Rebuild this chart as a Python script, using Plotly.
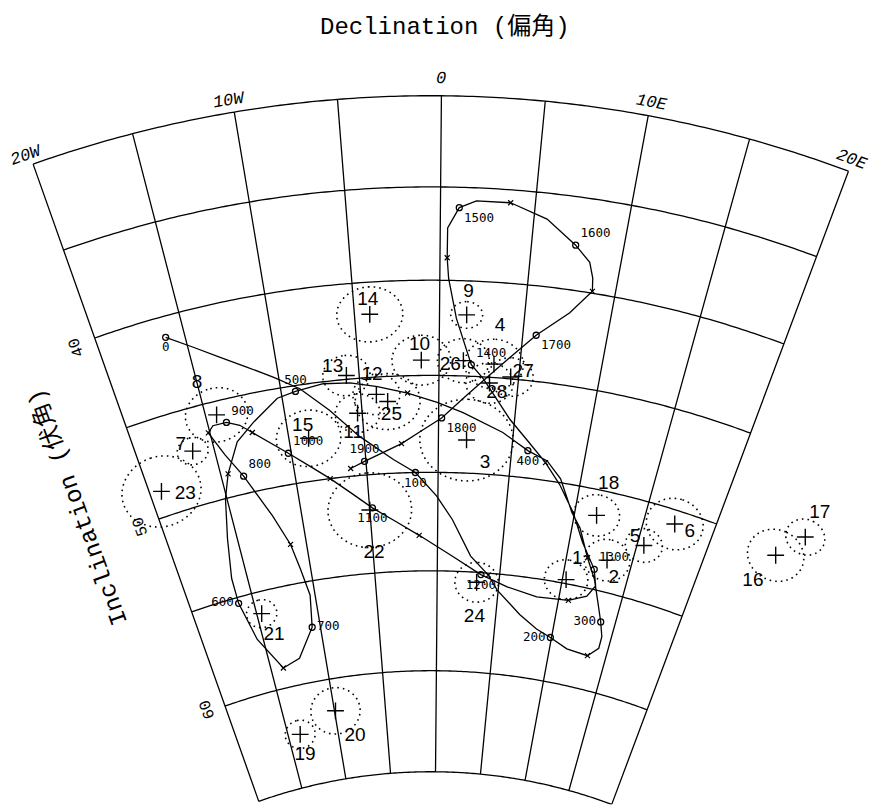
import numpy as np
import plotly.graph_objects as go

W, H = 871, 805

# Graticule of the equal-area net (declination / inclination, degrees)
DEC_LINES = [-20, -15, -10, -5, 0, 5, 10, 15, 20]
INC_LINES = [30, 35, 40, 45, 50, 55, 60, 65]
DEC_TICKS = ["20W", "10W", "0", "10E", "20E"]
INC_TICKS = ["40", "50", "60"]

# Secular-variation path, vertices in order of age
path_dec = [-16.1, -13.3, -10.3, -8.8, -7.1, -5.3, -3.1, -1.6, -0.1, 1.1, 2.6, 4.1, 4.9, 7.0, 8.6,
            9.9, 11.5, 13.4, 14.2, 14.2, 13.8, 13.2, 12.5, 11.6, 10.6, 9.8, 8.6, 7.5, 6.1, 4.3, 1.6,
            -0.1, -2.0, -3.9, -5.6, -7.3, -9.1, -10.3, -12.1, -13.4, -14.5, -15.1, -15.7, -16.2,
            -16.2, -15.5, -13.9, -12.3, -10.7, -10.4, -10.8, -11.2, -12.1, -13.5, -14.4, -15.1,
            -14.7, -13.8, -13.0, -12.3, -10.2, -7.6, -4.8, -1.4, 3.5, 5.7, 8.2, 10.8, 12.2, 12.7,
            12.3, 11.0, 9.9, 8.6, 7.4, 4.7, 2.8, 2.0, 1.0, 0.5, 0.4, 0.4, 1.0, 1.9, 3.7, 5.7, 7.4,
            8.3, 8.6, 8.7, 7.6, 5.8, 0.2, -2.5, -5.1, -6.1]
path_inc = [41.1, 42.8, 44.4, 45.2, 46.5, 48.0, 49.3, 50.0, 51.2, 52.4, 54.2, 55.1, 55.8, 56.9, 57.5,
            57.8, 58.2, 58.3, 57.8, 57.2, 56.5, 55.6, 54.5, 53.5, 52.1, 51.4, 49.8, 49.0, 48.6, 47.8,
            46.9, 46.4, 45.9, 45.5, 45.2, 45.1, 45.3, 45.5, 46.5, 47.3, 48.8, 50.0, 52.0, 54.0, 55.3,
            57.3, 59.0, 58.7, 57.3, 55.7, 54.3, 53.0, 51.4, 49.1, 47.8, 46.5, 46.2, 46.2, 46.5, 47.0,
            48.4, 50.0, 51.7, 53.2, 55.1, 55.6, 55.9, 55.8, 55.4, 54.8, 54.0, 52.8, 51.4, 50.1, 49.1,
            47.1, 45.1, 44.4, 42.0, 39.9, 38.8, 37.2, 36.1, 35.7, 35.7, 36.4, 37.6, 38.4, 39.2, 39.9,
            41.2, 42.6, 47.2, 48.5, 49.3, 49.6]

# Dated points (years) on the path
ages = [0, 100, 200, 300, 400, 500, 600, 700, 800, 900,
        1000, 1100, 1200, 1300, 1400, 1500, 1600, 1700, 1800, 1900]
age_dec = [-16.1, -1.6, 9.9, 13.8, 6.1, -9.1, -16.2, -10.7, -13.5, -13.8,
           -10.2, -4.8, 3.5, 12.3, 2.0, 1.0, 7.4, 5.8, 0.2, -5.1]
age_inc = [41.1, 50.0, 57.8, 56.5, 48.6, 45.3, 55.3, 57.3, 49.1, 46.2,
           48.4, 51.7, 55.1, 54.0, 44.4, 36.1, 37.6, 42.6, 47.2, 49.3]

# Intermediate half-century marks
mid_ages = [150, 250, 350, 450, 550, 650, 750, 850, 950, 1050, 1150, 1250, 1350, 1450, 1550, 1650,
            1850, 1950]
mid_dec = [4.1, 13.4, 11.6, -2.0, -14.5, -13.9, -11.2, -15.1, -12.3, -7.6, -1.4, 10.8, 7.4, 0.4,
           3.7, 8.7, -2.5, -6.1]
mid_inc = [55.1, 58.3, 53.5, 45.9, 48.8, 59.0, 53.0, 46.5, 47.0, 50.0, 53.2, 55.8, 49.1, 38.8,
           35.7, 39.9, 48.5, 49.6]

# Site mean directions and their alpha-95 confidence radii
site_id = list(range(1, 29))
site_dec = [10.3, 13.1, 1.9, 3.4, 15.5, 17.2, -16.4, -14.3, 1.6, -1.1, -5.3, -4.0, -5.8, -4.1,
            -8.7, 24.7, 26.0, 11.6, -13.8, -9.9, -14.6, -5.0, -19.2, 3.2, -3.3, 1.5, 4.5, 3.2]
site_inc = [54.8, 53.4, 48.3, 44.3, 52.2, 50.7, 47.2, 45.7, 41.8, 44.2, 46.8, 45.9, 44.8, 41.7,
            47.8, 50.3, 48.8, 51.3, 62.4, 61.6, 56.1, 51.8, 48.7, 55.5, 46.3, 44.2, 44.9, 45.3]
site_a95 = [1.0, 1.05, 2.1, 1.3, 0.85, 1.3, 0.7, 1.4, 0.7, 1.3, 1.0, 1.05, 1.05, 1.45,
            1.45, 1.3, 0.9, 1.05, 0.7, 1.15, 0.7, 1.9, 1.8, 1.0, 1.45, 1.15, 1.0, 1.05]

# Label placement relative to each site (degrees of declination / inclination)
lab_ddec = [0.55, 0.85, 1.35, 0.2, -0.8, 1.2, -0.65, -0.7, 0.06, -0.1, -0.4, -0.2, -0.8, -0.06,
            -0.27, -0.7, 0.14, 0.36, 0.0, 1.55, 0.58, 0.07, 1.5, 0.0, 0.2, -0.8, 0.75, 0.5]
lab_dinc = [-1.1, 0.8, 1.13, -2.0, -0.3, 0.15, -0.46, -1.85, -1.2, -0.8, 1.0, -1.0, -0.5, -0.75,
            -0.67, 1.7, -1.45, -1.7, 1.05, 1.4, 1.2, 2.2, 0.5, 1.75, 0.72, 0.26, -0.3, 0.5]
age_textpos = ["bottom center", "bottom center", "middle left", "middle left", "bottom center",
               "top center", "middle left", "middle right", "top right", "top right",
               "top right", "bottom center", "bottom center", "top right", "top right",
               "bottom right", "top right", "bottom right", "bottom right", "top center"]

INK = "black"
LINE_W = 1.3


def lat_of(inc):
    """Inclination is plotted as southern latitude around a pole-centred net."""
    return [-v if v is not None else None for v in inc]


def small_circle(lon0, lat0, radius, n=90):
    la0, lo0, d = np.radians(lat0), np.radians(lon0), np.radians(radius)
    th = np.linspace(0, 2 * np.pi, n + 1)
    lat = np.arcsin(np.sin(la0) * np.cos(d) + np.cos(la0) * np.sin(d) * np.cos(th))
    lon = lo0 + np.arctan2(np.sin(th) * np.sin(d) * np.cos(la0),
                           np.cos(d) - np.sin(la0) * np.sin(lat))
    return np.degrees(lon), np.degrees(lat)


fig = go.Figure()

# graticule: meridians and parallels of the fan
g_lon, g_lat = [], []
for d in DEC_LINES:
    g_lon += [d, d, None]
    g_lat += [-INC_LINES[0], -INC_LINES[-1], None]
for i in INC_LINES:
    lons = np.linspace(DEC_LINES[0], DEC_LINES[-1], 161)
    g_lon += list(lons) + [None]
    g_lat += [-i] * len(lons) + [None]
fig.add_trace(go.Scattergeo(lon=g_lon, lat=g_lat, mode="lines",
                            line=dict(color=INK, width=LINE_W), hoverinfo="skip"))

# alpha-95 circles
c_lon, c_lat = [], []
for d, i, a in zip(site_dec, site_inc, site_a95):
    lo, la = small_circle(d, -i, a)
    c_lon += list(lo) + [None]
    c_lat += list(la) + [None]
fig.add_trace(go.Scattergeo(lon=c_lon, lat=c_lat, mode="lines",
                            line=dict(color=INK, width=1.6, dash="1.6px,4px"), hoverinfo="skip"))

# secular-variation path
fig.add_trace(go.Scattergeo(lon=path_dec, lat=lat_of(path_inc), mode="lines",
                            line=dict(color=INK, width=LINE_W), hoverinfo="skip"))

# half-century marks
fig.add_trace(go.Scattergeo(lon=mid_dec, lat=lat_of(mid_inc), mode="markers",
                            marker=dict(symbol="x-thin-open", size=5, color=INK,
                                        line=dict(width=1.2, color=INK)),
                            text=[str(a) for a in mid_ages], hoverinfo="text"))

# dated points with their ages
fig.add_trace(go.Scattergeo(lon=age_dec, lat=lat_of(age_inc), mode="markers+text",
                            marker=dict(symbol="circle-open", size=6, color=INK,
                                        line=dict(width=1.3, color=INK)),
                            text=[str(a) for a in ages], textposition=age_textpos,
                            textfont=dict(family="DejaVu Sans Mono, monospace", size=12.5,
                                          color=INK),
                            hoverinfo="text"))

# site means
fig.add_trace(go.Scattergeo(lon=site_dec, lat=lat_of(site_inc), mode="markers",
                            marker=dict(symbol="cross-thin-open", size=12, color=INK,
                                        line=dict(width=1.4, color=INK)),
                            text=[str(s) for s in site_id], hoverinfo="text"))
fig.add_trace(go.Scattergeo(lon=[d + o for d, o in zip(site_dec, lab_ddec)],
                            lat=lat_of([i + o for i, o in zip(site_inc, lab_dinc)]),
                            mode="text", text=[str(s) for s in site_id],
                            textposition="middle center",
                            textfont=dict(family="Liberation Sans, Arial, sans-serif", size=19,
                                          color=INK),
                            hoverinfo="skip"))


def paper(x, y):
    return x / W, 1 - y / H


TITLE_FONT = dict(family="Liberation Mono, Noto Sans CJK JP, monospace", size=24, color=INK)
annotations = []
x, y = paper(445, 27)
annotations.append(dict(text="Declination (偏角)", x=x, y=y, font=TITLE_FONT))
x, y = paper(78, 507)
annotations.append(dict(text="Inclination (伏角)", x=x, y=y, textangle=-110, font=TITLE_FONT))

tick_font = dict(family="Liberation Mono, monospace", size=17, color=INK, style="italic")
for txt, (px, py, ang) in zip(DEC_TICKS, [(26, 155, -19.5), (229, 100, -9.5), (441, 78, 0.5),
                                          (651, 103, 10.5), (851, 160, 20.5)]):
    x, y = paper(px, py)
    annotations.append(dict(text=txt, x=x, y=y, textangle=ang, font=tick_font))
for txt, (px, py) in zip(INC_TICKS, [(77, 348), (141, 527), (208, 710)]):
    x, y = paper(px, py)
    annotations.append(dict(text=txt, x=x, y=y, textangle=-110,
                            font=dict(family="Liberation Mono, monospace", size=16, color=INK)))
for a in annotations:
    a.update(xref="paper", yref="paper", showarrow=False, xanchor="center", yanchor="middle")

# The fitted lon/lat box reaches a little above the 30-degree parallel so its stroke is not cut.
fig.update_layout(
    width=W, height=H,
    margin=dict(l=0, r=0, t=0, b=0),
    paper_bgcolor="white",
    showlegend=False,
    annotations=annotations,
    geo=dict(
        projection=dict(type="azimuthal equal area",
                        rotation=dict(lon=0, lat=-90, roll=-0.5)),
        center=dict(lon=0.586, lat=-48.72),
        lonaxis=dict(range=[-20, 20], showgrid=False),
        lataxis=dict(range=[-65, -29.7], showgrid=False),
        showland=False, showocean=False, showlakes=False, showrivers=False,
        showcountries=False, showcoastlines=False, showsubunits=False, showframe=False,
        bgcolor="white",
        domain=dict(x=[31.3 / W, 850.3 / W], y=[1 - 804.4 / H, 1 - 90.35 / H]),
    ),
)

fig.write_html("out.html")
